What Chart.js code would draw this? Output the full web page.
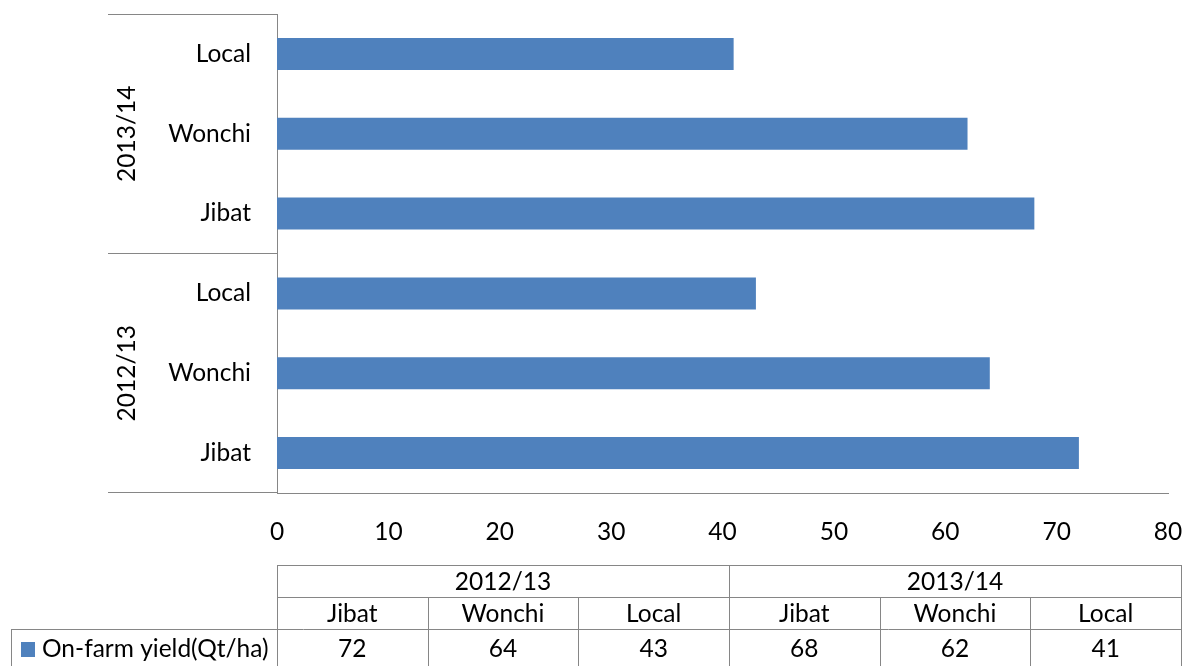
<!DOCTYPE html>
<html>
<head>
<meta charset="utf-8">
<script src="https://cdn.jsdelivr.net/npm/chart.js@4/dist/chart.umd.min.js"></script>
<style>
  html, body { margin: 0; padding: 0; background: #fff; }
  #wrap { width: 1184px; height: 666px; position: relative; }
</style>
</head>
<body>
<div id="wrap"><canvas id="yieldChart"></canvas></div>
<script>
const seasons = ['2012/13', '2013/14'];
const varieties = ['Jibat', 'Wonchi', 'Local'];
const yield2012 = [72, 64, 43];
const yield2013 = [68, 62, 41];
const seriesName = 'On-farm yield(Qt/ha)';
const xMin = 0, xMax = 80, xStep = 10;

const barColor = '#4F81BD';
const lineColor = '#868686';
const fontFamily = 'Lato, "Liberation Sans", sans-serif';
const fontSize = 24.5;

// flatten season x variety into one category list
const labels = [];
const values = [];
const groupOf = [];
[yield2012, yield2013].forEach((vals, s) => {
    varieties.forEach((v, i) => {
        labels.push(v);
        values.push(vals[i]);
        groupOf.push(s);
    });
});

// group labels + separators on the left of the category axis
const groupAxisPlugin = {
    id: 'groupAxis',
    afterDraw(chart) {
        const ctx = chart.ctx;
        const y = chart.scales.y;
        const area = chart.chartArea;
        const leftX = 108;
        ctx.save();
        ctx.strokeStyle = lineColor;
        ctx.lineWidth = 1;
        const hLine = (py, x1, x2) => {
            const yy = Math.round(py) + 0.5;
            ctx.beginPath();
            ctx.moveTo(x1, yy);
            ctx.lineTo(x2, yy);
            ctx.stroke();
        };
        hLine(area.top, leftX, area.left);
        hLine(area.bottom - 1, leftX, area.left);

        ctx.fillStyle = '#000';
        ctx.font = fontSize + 'px ' + fontFamily;
        ctx.textAlign = 'center';
        ctx.textBaseline = 'middle';
        seasons.forEach((season, s) => {
            const idx = [];
            groupOf.forEach((g, i) => { if (g === s) idx.push(i); });
            const p1 = y.getPixelForValue(idx[0]);
            const p2 = y.getPixelForValue(idx[idx.length - 1]);
            const mid = (p1 + p2) / 2;
            ctx.save();
            ctx.translate(127, mid);
            ctx.rotate(-Math.PI / 2);
            ctx.fillText(season, 0, 0);
            ctx.restore();
            if (s > 0) {
                const prev = y.getPixelForValue(idx[0] - 1);
                hLine((prev + p1) / 2, leftX, area.left);
            }
        });
        ctx.restore();
    }
};

// data table under the chart
const dataTablePlugin = {
    id: 'dataTable',
    afterDraw(chart) {
        const ctx = chart.ctx;
        const x0 = 277, x1 = 1181;
        const rows = [565, 597, 629, 667];
        const legendLeft = 11;
        const n = labels.length;
        const colW = (x1 - x0) / n;
        const px = v => Math.round(v) + 0.5;

        ctx.save();
        ctx.strokeStyle = lineColor;
        ctx.lineWidth = 1;
        const line = (ax, ay, bx, by) => {
            ctx.beginPath();
            ctx.moveTo(ax, ay);
            ctx.lineTo(bx, by);
            ctx.stroke();
        };
        line(x0, px(rows[0]), x1, px(rows[0]));
        line(x0, px(rows[1]), x1, px(rows[1]));
        line(legendLeft, px(rows[2]), x1, px(rows[2]));
        line(px(x0), rows[0], px(x0), rows[3]);
        line(px(x1), rows[0], px(x1), rows[3]);
        line(px(legendLeft), rows[2], px(legendLeft), rows[3]);
        for (let i = 1; i < n; i++) {
            const cx = px(x0 + colW * i);
            const top = (i % varieties.length === 0) ? rows[0] : rows[1];
            line(cx, top, cx, rows[3]);
        }

        ctx.fillStyle = '#000';
        ctx.font = fontSize + 'px ' + fontFamily;
        ctx.textAlign = 'center';
        ctx.textBaseline = 'middle';
        seasons.forEach((season, s) => {
            const a = x0 + colW * varieties.length * s;
            ctx.fillText(season, a + colW * varieties.length / 2, (rows[0] + rows[1]) / 2 + 1);
        });
        labels.forEach((lab, i) => {
            const cx = x0 + colW * (i + 0.5);
            ctx.fillText(lab, cx, (rows[1] + rows[2]) / 2 + 1);
            ctx.fillText(String(values[i]), cx, 649);
        });

        ctx.fillStyle = barColor;
        ctx.fillRect(21, 642, 14, 15);
        ctx.fillStyle = '#000';
        ctx.textAlign = 'left';
        ctx.fillText(seriesName, 42, 649);
        ctx.restore();
    }
};

document.addEventListener('DOMContentLoaded', () => {
    const canvas = document.getElementById('yieldChart');
    canvas.width = 1184;
    canvas.height = 666;

    new Chart(canvas.getContext('2d'), {
        type: 'bar',
        data: {
            labels: labels,
            datasets: [{
                label: seriesName,
                data: values,
                backgroundColor: barColor,
                categoryPercentage: 1,
                barPercentage: 0.4
            }]
        },
        options: {
            indexAxis: 'y',
            responsive: false,
            animation: false,
            layout: { padding: { top: 14, right: 16, bottom: 123, left: 0 } },
            plugins: {
                legend: { display: false },
                tooltip: { enabled: false }
            },
            scales: {
                x: {
                    min: xMin,
                    max: xMax,
                    afterFit: s => {
                        s.height = 50;
                        s.paddingLeft = 0;
                        s.paddingRight = 0;
                    },
                    grid: { display: false, drawTicks: false },
                    border: { display: true, color: lineColor, width: 1 },
                    ticks: {
                        stepSize: xStep,
                        padding: 24,
                        color: '#000',
                        font: { family: fontFamily, size: fontSize }
                    }
                },
                y: {
                    reverse: true,
                    afterFit: s => {
                        s.width = 277;
                        s.paddingTop = 0;
                        s.paddingBottom = 0;
                    },
                    grid: { display: false, drawTicks: false },
                    border: { display: true, color: lineColor, width: 1 },
                    ticks: {
                        padding: 26,
                        color: '#000',
                        font: { family: fontFamily, size: fontSize }
                    }
                }
            }
        },
        plugins: [groupAxisPlugin, dataTablePlugin]
    });
});
</script>
</body>
</html>
